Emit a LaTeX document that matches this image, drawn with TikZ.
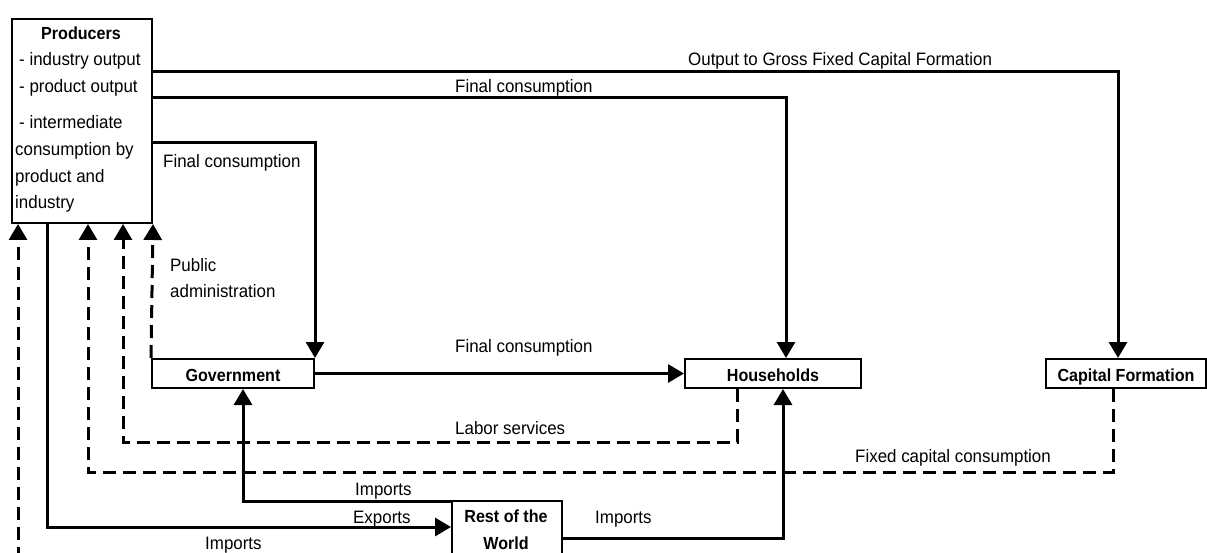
\documentclass[tikz,border=0pt]{standalone}
\usepackage{fontspec}
\setmainfont{Liberation Sans}
\newfontfamily\lbfont[FakeStretch=0.94]{Liberation Sans}
\newfontfamily\bbfont[FakeStretch=0.92]{Liberation Sans}
\usetikzlibrary{arrows.meta}
\begin{document}
\begin{tikzpicture}[x=1pt,y=-1pt,
  box/.style={draw, line width=2pt, rectangle, inner sep=0pt, anchor=north west,
    text height=15pt, text depth=0pt, font=\bbfont\fontsize{17.5}{20}\selectfont\bfseries},
  lbl/.style={inner sep=0pt, anchor=base west, font=\lbfont\fontsize{18}{20}\selectfont},
  blbl/.style={inner sep=0pt, anchor=base, font=\bbfont\fontsize{17.5}{20}\selectfont\bfseries},
  arr/.style={line width=3pt, -{Triangle[length=16pt,width=18pt]}},
  darr/.style={arr, dash pattern=on 13pt off 7pt},
  conn/.style={line width=3pt}]
\useasboundingbox (0,0) rectangle (1207,553);
\clip (0,0) rectangle (1207,553);

% boxes
\node[box, minimum width=140pt, minimum height=204pt] (prod) at (11,18) {};
\node[box, minimum width=162pt, minimum height=29pt] (gov) at (151,358) {Government};
\node[box, minimum width=176pt, minimum height=29pt] (hh) at (684,358) {Households};
\node[box, minimum width=160pt, minimum height=29pt] (cap) at (1045,358) {Capital Formation};
\node[box, minimum width=110pt, minimum height=80pt] (row) at (451,500) {};

% box texts
\node[blbl] (prodt) at (81,40) {Producers};
\node[lbl] (p1) at (19,66) {- industry output};
\node[lbl] (p2) at (19,93) {- product output};
\node[lbl] (p3) at (19,129) {- intermediate};
\node[lbl] (p4) at (15,156) {consumption by};
\node[lbl] (p5) at (15,183) {product and};
\node[lbl] (p6) at (15,209) {industry};
\node[blbl] (rowt1) at (506,522) {Rest of the};
\node[blbl] (rowt2) at (506,549) {World};

% connector labels
\node[lbl] (l1) at (688,66) {Output to Gross Fixed Capital Formation};
\node[lbl] (l2) at (455,93) {Final consumption};
\node[lbl] (l3) at (163,168) {Final consumption};
\node[lbl] (l4) at (170,272) {Public};
\node[lbl] (l5) at (170,298) {administration};
\node[lbl] (l6) at (455,352) {Final consumption};
\node[lbl] (l7) at (455,434) {Labor services};
\node[lbl] (l8) at (855,462) {Fixed capital consumption};
\node[lbl] (l9) at (355,495) {Imports};
\node[lbl] (l10) at (353,523) {Exports};
\node[lbl] (l11) at (205,549) {Imports};
\node[lbl] (l12) at (595,523) {Imports};

% solid connectors
\draw[arr] ([yshift=-54pt]prod.north east) -| ([xshift=73pt]cap.north west);
\draw[arr] ([yshift=-80pt]prod.north east) -| ([xshift=102pt]hh.north west);
\draw[arr] ([yshift=-125pt]prod.north east) -| (gov.north east);
\draw[arr] (gov.east) -- (hh.west);
\draw[arr] ([yshift=-1pt]row.north west) -| ([xshift=92pt]gov.south west);
\draw[arr] ([xshift=36pt]prod.south west) |- ([yshift=-27pt]row.north west);
\draw[arr] ([yshift=-38pt]row.north east) -| ([xshift=99pt]hh.south west);

% dashed connectors
\draw[darr] (gov.north west) -- (prod.south east);
\draw[darr] ([xshift=53pt]hh.south west) -- ++(0,53) -| ([xshift=112pt]prod.south west);
\draw[darr] ([xshift=68pt]cap.south west) -- ++(0,83) -| ([xshift=77pt]prod.south west);
\coordinate (bot) at (18,560);
\draw[darr] (bot) -- ([xshift=7pt]prod.south west);
\end{tikzpicture}
\end{document}
